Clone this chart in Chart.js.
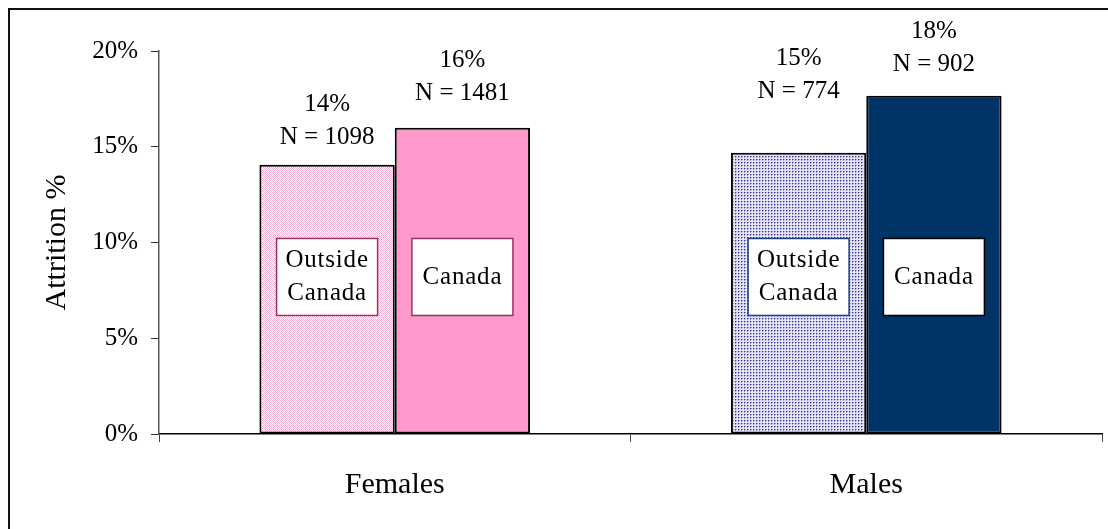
<!DOCTYPE html>
<html>
<head>
<meta charset="utf-8">
<script src="https://cdn.jsdelivr.net/npm/chart.js@4.4.1/dist/chart.umd.min.js"></script>
<style>
  html, body { margin: 0; padding: 0; background: #ffffff; }
  #wrap { width: 1108px; height: 529px; position: relative; }
</style>
</head>
<body>
<div id="wrap"><canvas id="c" width="1108" height="529"></canvas></div>
<script>
// ---- data ----
const categories = ['Females', 'Males'];
const seriesNames = ['Outside Canada', 'Canada'];
const outsideValues = [14.06, 14.69];
const canadaValues = [15.99, 17.66];
const outsideN = [1098, 774];
const canadaN = [1481, 902];
const yTicks = [0, 5, 10, 15, 20];

// ---- styles ----
const FONT = "'Liberation Serif', 'Times New Roman', serif";
const canadaColors = ['#FF99CC', '#003366'];
const boxBorders = [['#993366', '#993366'], ['#1F3F7F', '#000000']]; // [category][series]
const labelLift = [[27, 34], [61, 31]]; // px above bar top for the "N =" line
const boxCenterValue = 8.2;

function makePattern(kind) {
  const t = document.createElement('canvas');
  const g = t.getContext('2d');
  if (kind === 'pink') {
    t.width = 4; t.height = 4;
    g.fillStyle = '#ffffff'; g.fillRect(0, 0, 4, 4);
    g.fillStyle = '#FFA8D4';
    for (let x = 0; x < 4; x++) for (let y = 0; y < 4; y++) {
      if ((x + y) % 4 === 0 || ((x - y + 4) % 4) === 0) g.fillRect(x, y, 1, 1);
    }
    g.fillStyle = '#FFD2E8';
    g.fillRect(2, 0, 1, 1); g.fillRect(0, 2, 1, 1);
  } else {
    t.width = 3; t.height = 3;
    g.fillStyle = '#E4E4F4'; g.fillRect(0, 0, 3, 3);
    g.fillStyle = '#9A9AD0'; g.fillRect(1, 0, 1, 1); g.fillRect(0, 1, 1, 1);
    g.fillStyle = '#333399'; g.fillRect(0, 0, 1, 1);
  }
  return document.getElementById('c').getContext('2d').createPattern(t, 'repeat');
}
const outsideFills = [makePattern('pink'), makePattern('blue')];

const overlay = {
  id: 'overlay',
  beforeDraw(chart) {
    const ctx = chart.ctx;
    ctx.save();
    ctx.fillStyle = '#ffffff';
    ctx.fillRect(0, 0, chart.width, chart.height);
    ctx.restore();
  },
  afterDraw(chart) {
    const ctx = chart.ctx;
    // outer frame (left + top visible)
    ctx.save();
    ctx.strokeStyle = '#111111';
    ctx.lineWidth = 2;
    ctx.strokeRect(9, 9, chart.width + 20, chart.height + 20);
    ctx.restore();

    const yScale = chart.scales.y;
    const sets = [
      { values: outsideValues, n: outsideN, box: ['Outside', 'Canada'] },
      { values: canadaValues, n: canadaN, box: ['Canada'] }
    ];
    sets.forEach((s, di) => {
      const meta = chart.getDatasetMeta(di);
      meta.data.forEach((bar, ci) => {
        const x = bar.x;
        const top = bar.y;
        // value labels
        ctx.save();
        ctx.fillStyle = '#000000';
        ctx.font = '25px ' + FONT;
        ctx.textAlign = 'center';
        ctx.textBaseline = 'middle';
        const nY = top - labelLift[ci][di];
        ctx.fillText(Math.round(s.values[ci]) + '%', x, nY - 33);
        ctx.fillText('N = ' + s.n[ci], x, nY);
        ctx.restore();

        // inner label box
        const bw = 101, bh = 77;
        const cy = yScale.getPixelForValue(boxCenterValue);
        ctx.save();
        ctx.fillStyle = '#ffffff';
        ctx.fillRect(x - bw / 2, cy - bh / 2, bw, bh);
        ctx.strokeStyle = boxBorders[ci][di];
        ctx.lineWidth = 1.5;
        ctx.strokeRect(x - bw / 2, cy - bh / 2, bw, bh);
        ctx.fillStyle = '#000000';
        ctx.font = '25px ' + FONT;
        try { ctx.letterSpacing = '0.8px'; } catch (e) {}
        ctx.textAlign = 'center';
        ctx.textBaseline = 'middle';
        const lh = 33;
        const n = s.box.length;
        s.box.forEach((line, li) => {
          ctx.fillText(line, x, cy + (li - (n - 1) / 2) * lh);
        });
        ctx.restore();
      });
    });
  }
};

new Chart(document.getElementById('c'), {
  type: 'bar',
  data: {
    labels: categories,
    datasets: [
      {
        label: seriesNames[0],
        data: outsideValues,
        backgroundColor: outsideFills,
        borderColor: '#000000',
        borderWidth: 2,
        borderSkipped: false
      },
      {
        label: seriesNames[1],
        data: canadaValues,
        backgroundColor: canadaColors,
        borderColor: '#000000',
        borderWidth: 2,
        borderSkipped: false
      }
    ]
  },
  options: {
    responsive: false,
    animation: false,
    devicePixelRatio: 1,
    layout: { padding: { top: 51, right: 6, left: 0, bottom: 0 } },
    categoryPercentage: 0.574,
    barPercentage: 1.0,
    plugins: {
      legend: { display: false },
      tooltip: { enabled: false },
      title: { display: false }
    },
    scales: {
      x: {
        grid: {
          display: true,
          drawOnChartArea: false,
          drawTicks: true,
          tickLength: 8,
          tickColor: '#444444',
          offset: true
        },
        border: { display: true, color: '#000000', width: 1.5 },
        ticks: {
          color: '#000000',
          font: { family: FONT, size: 30 },
          padding: 25
        },
        afterFit(scale) { scale.height = 95; }
      },
      y: {
        min: 0,
        max: 20,
        afterBuildTicks(scale) { scale.ticks = yTicks.map(v => ({ value: v })); },
        grid: {
          display: true,
          drawOnChartArea: false,
          drawTicks: true,
          tickLength: 8,
          tickColor: '#333333'
        },
        border: { display: true, color: '#555555', width: 1.5 },
        ticks: {
          color: '#000000',
          font: { family: FONT, size: 25 },
          padding: 13,
          callback: v => v + '%'
        },
        title: {
          display: true,
          text: 'Attrition %',
          color: '#000000',
          font: { family: FONT, size: 30 },
          padding: { top: 39, bottom: 0 }
        },
        afterFit(scale) { scale.width = 159; }
      }
    }
  },
  plugins: [overlay]
});
</script>
</body>
</html>
